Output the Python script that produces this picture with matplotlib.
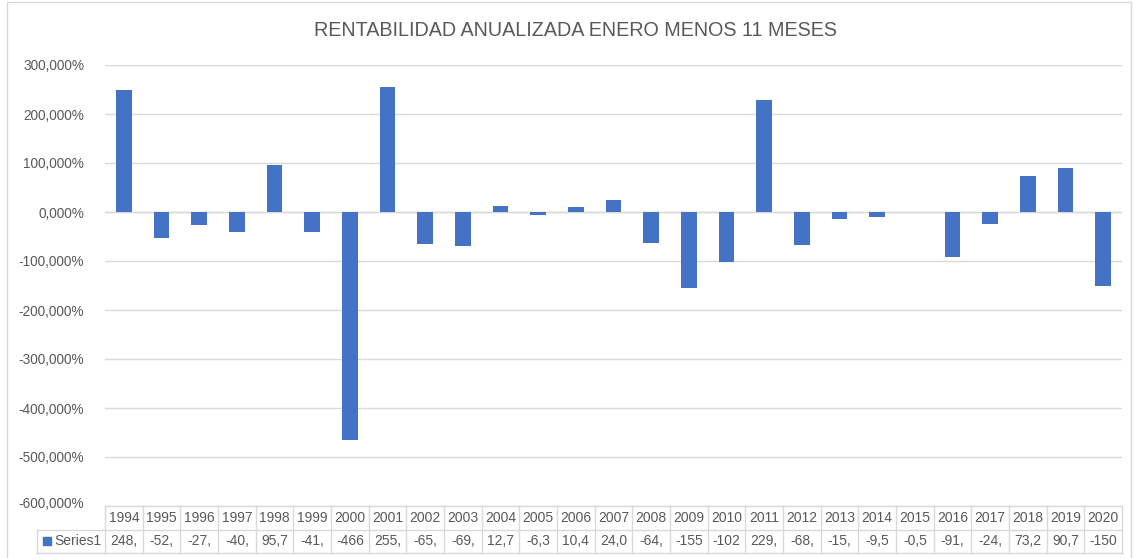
import matplotlib.pyplot as plt
from matplotlib.patches import Rectangle
import matplotlib.transforms as mtransforms

years = [str(y) for y in range(1994, 2021)]
rentabilidad = [248.1, -52.3, -27.4, -40.2, 95.7, -41.1, -466.2, 255.3, -65.1, -69.4,
                12.7, -6.3, 10.4, 24.0, -64.2, -155.1, -102.3, 229.4, -68.2, -15.3,
                -9.5, -0.5, -91.2, -24.3, 73.2, 90.7, -150.2]
yticks = [300, 200, 100, 0, -100, -200, -300, -400, -500, -600]
titulo = "RENTABILIDAD ANUALIZADA ENERO MENOS 11 MESES"
serie = "Series1"

azul = "#4472c4"
gris_txt = "#595959"
gris_lin = "#d9d9d9"
plt.rcParams['font.family'] = ['Liberation Sans', 'DejaVu Sans']

W, H = 1134, 558
fig = plt.figure(figsize=(W / 100, H / 100), dpi=100)
x0, x1, ytop, ybot = 105, 1122, 65, 506
ax = fig.add_axes([x0 / W, 1 - ybot / H, (x1 - x0) / W, (ybot - ytop) / H])

xs = list(range(len(years)))
ax.bar(xs, rentabilidad, width=0.42, color=azul, zorder=3)
ax.set_xlim(-0.5, len(years) - 0.5)
ax.set_ylim(-600, 300)
ax.set_yticks(yticks)
ax.set_yticklabels([f"{v:,.3f}%".replace(".", ",") for v in yticks])
ax.tick_params(axis='y', length=0, pad=15, labelsize=9.8, labelcolor=gris_txt)
# la etiqueta inferior queda un poco por encima de la tabla
ultima = ax.get_yticklabels()[-1]
ultima.set_transform(ultima.get_transform() + mtransforms.ScaledTranslation(0, 3 / 100, fig.dpi_scale_trans))
ax.set_xticks([])
for s in ax.spines.values():
    s.set_visible(False)
ax.grid(axis='y', color=gris_lin, linewidth=1, zorder=0)
ax.axhline(0, color=gris_lin, linewidth=1, zorder=2)

# tabla de datos debajo del grafico
trans = mtransforms.blended_transform_factory(ax.transData, ax.transAxes)
rh = 23.5 / (ybot - ytop)
kw = dict(color=gris_lin, linewidth=1, clip_on=False, transform=trans)
n = len(years)
ax.plot([-0.5, n - 0.5], [-rh, -rh], **kw)
ax.plot([-0.5, n - 0.5], [-2 * rh, -2 * rh], **kw)
ax.plot([-0.5, n - 0.5], [0, 0], **kw)
for i in range(n + 1):
    ax.plot([i - 0.5, i - 0.5], [0, -2 * rh], **kw)
for i, (yr, v) in enumerate(zip(years, rentabilidad)):
    ax.text(i, -rh / 2, yr, ha='center', va='center', fontsize=10,
            color=gris_txt, transform=trans, clip_on=False)
    txt = f"{v:.3f}".replace(".", ",")[:4]
    ax.text(i, -1.5 * rh, txt, ha='center', va='center', fontsize=10,
            color=gris_txt, transform=trans, clip_on=False)

# celda de la leyenda
fx = fig.transFigure
lx0 = 37 / W
ya, yb = 1 - (ybot + 23.5) / H, 1 - (ybot + 47) / H
fig.add_artist(plt.Line2D([lx0, x0 / W], [ya, ya], color=gris_lin, lw=1))
fig.add_artist(plt.Line2D([lx0, x0 / W], [yb, yb], color=gris_lin, lw=1))
fig.add_artist(plt.Line2D([lx0, lx0], [ya, yb], color=gris_lin, lw=1))
fig.add_artist(Rectangle((43 / W, (ya + yb) / 2 - 4 / H), 8 / W, 8 / H, color=azul, transform=fx))
fig.text(54 / W, (ya + yb) / 2, serie, fontsize=10, color=gris_txt, va='center', ha='left')

fig.text(575 / W, 1 - 31 / H, titulo, fontsize=14.2, color=gris_txt, ha='center', va='center')

# borde del area del grafico
fig.add_artist(Rectangle((7 / W, -0.01), 1124 / W, 1 - 2 / H + 0.01, fill=False,
                         edgecolor=gris_lin, linewidth=1, transform=fx))

fig.savefig("out.png", dpi=100)
